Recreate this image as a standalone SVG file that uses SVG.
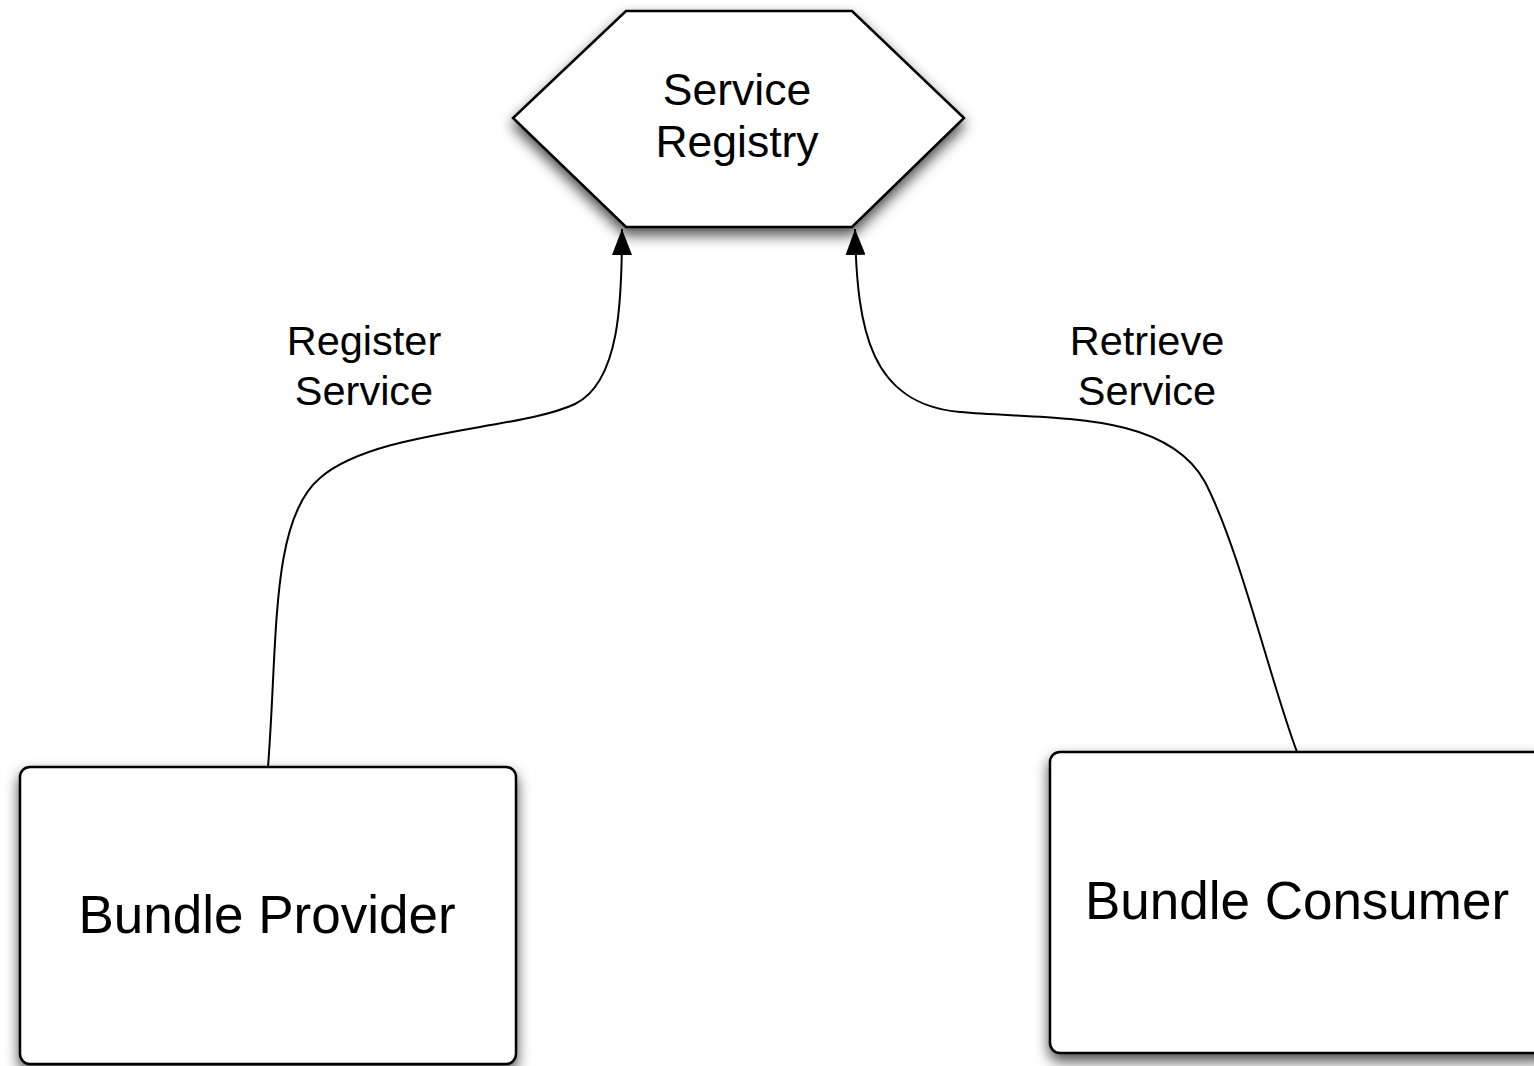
<svg xmlns="http://www.w3.org/2000/svg" width="1534" height="1066" viewBox="0 0 1534 1066">
<style>
.shape{fill:#fff;stroke:#000;stroke-width:2.5;filter:url(#sh)}
.conn{fill:none;stroke:#000;stroke-width:2;marker-end:url(#arr)}
text{font-family:"Liberation Sans",Arial,sans-serif;fill:#000;text-anchor:middle}
.lbl{font-size:41.5px}
.hx{font-size:44.5px}
.big{font-size:53px}
</style>
<defs>
<filter id="sh" x="-10%" y="-10%" width="120%" height="130%">
<feDropShadow dx="0" dy="7" stdDeviation="7" flood-color="#000" flood-opacity="0.7"/>
</filter>
<marker id="arr" viewBox="0 0 26 20" refX="26" refY="10" markerWidth="26" markerHeight="20" markerUnits="userSpaceOnUse" orient="auto">
<path d="M0,0 L26,10 L0,20 Z" fill="#000"/>
</marker>
</defs>
<rect width="1534" height="1066" fill="#fff"/>
<g id="connectors">
<path class="conn" d="M268,767 C278,640 270,520 320,478 C375,430 520,430 575,404 C620,382 622,300 622,229"/>
<path class="conn" d="M1297,752 C1270,680 1240,550 1205,482 C1165,410 1050,420 960,412 C870,404 857,330 855,229"/>
</g>
<g id="service-registry">
<polygon class="shape" points="626,11 852,11 964,118 852,227 626,227 513,118"/>
<text class="hx" x="737" y="105">Service</text>
<text class="hx" x="737" y="157">Registry</text>
</g>
<g id="bundle-provider">
<rect class="shape" x="20" y="767" width="496" height="297" rx="10"/>
<text class="big" x="267" y="933">Bundle Provider</text>
</g>
<g id="bundle-consumer">
<rect class="shape" x="1050" y="752" width="500" height="301" rx="10"/>
<text class="big" x="1297" y="919">Bundle Consumer</text>
</g>
<g id="labels">
<text class="lbl" x="364" y="355">Register</text>
<text class="lbl" x="364" y="405">Service</text>
<text class="lbl" x="1147" y="355">Retrieve</text>
<text class="lbl" x="1147" y="405">Service</text>
</g>
</svg>
